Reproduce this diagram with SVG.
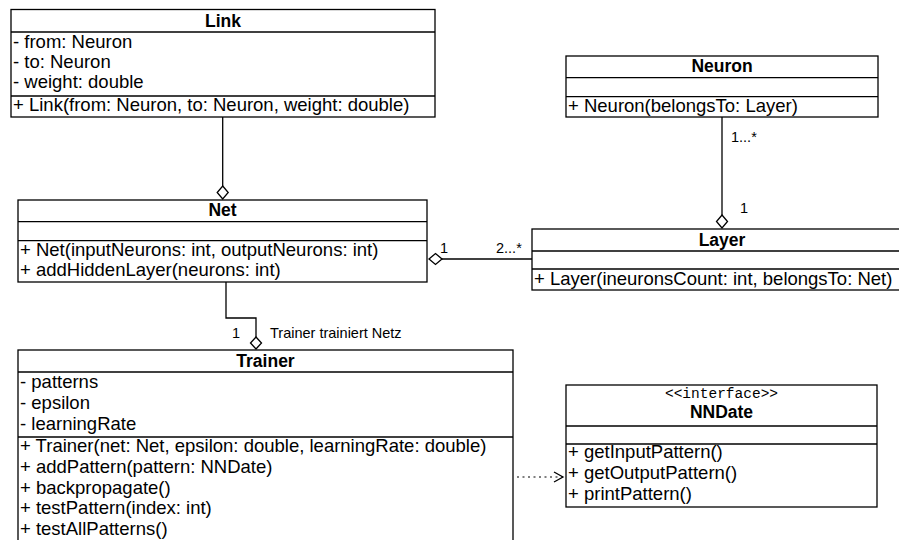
<svg xmlns="http://www.w3.org/2000/svg" width="899" height="540" viewBox="0 0 899 540">
  <style>
    .box { fill: #ffffff; stroke: #000000; stroke-width: 1.3; }
    .div { stroke: #000000; stroke-width: 1.3; }
    .title { font-family: "Liberation Sans", Arial, sans-serif; font-size: 17.5px; font-weight: bold; text-anchor: middle; fill: #000; }
    .member { font-family: "Liberation Sans", Arial, sans-serif; font-size: 18.5px; fill: #000; }
    .stereo { font-family: "Liberation Mono", "Courier New", monospace; font-size: 14.5px; text-anchor: middle; fill: #000; }
    .label { font-family: "Liberation Sans", Arial, sans-serif; font-size: 14.5px; fill: #000; }
    .edge { fill: none; stroke: #000000; stroke-width: 1.3; }
    .diamond { fill: #ffffff; stroke: #000000; stroke-width: 1.3; }
    .dep { fill: none; stroke: #000000; stroke-width: 1.2; stroke-dasharray: 2 3.5; }
  </style>
  <defs>
    <marker id="openArrow" markerWidth="12" markerHeight="12" refX="10" refY="6" orient="auto" markerUnits="userSpaceOnUse">
      <path d="M1,1 L10,6 L1,11" fill="none" stroke="#000" stroke-width="1.3"/>
    </marker>
  </defs>

  <!-- connectors -->
  <g id="connectors">
    <!-- Link – Net aggregation -->
    <line class="edge" x1="222.7" y1="117" x2="222.7" y2="186"/>
    <path class="diamond" d="M222.7,186 L228.2,192.5 L222.7,199 L217.2,192.5 Z"/>
    <!-- Neuron – Layer aggregation -->
    <line class="edge" x1="722" y1="117" x2="722" y2="215"/>
    <path class="diamond" d="M722,215 L727.5,221.5 L722,228 L716.5,221.5 Z"/>
    <text class="label" x="731" y="142">1...*</text>
    <text class="label" x="740" y="213">1</text>
    <!-- Net – Layer aggregation -->
    <line class="edge" x1="442" y1="259" x2="532" y2="259"/>
    <path class="diamond" d="M429,259 L435.5,253.5 L442,259 L435.5,264.5 Z"/>
    <text class="label" x="440" y="253">1</text>
    <text class="label" x="496" y="253">2...*</text>
    <!-- Net – Trainer aggregation -->
    <polyline class="edge" points="226,282 226,318 256,318 256,337"/>
    <path class="diamond" d="M256,337 L261.5,343 L256,349 L250.5,343 Z"/>
    <text class="label" x="232" y="338">1</text>
    <text class="label" x="270" y="338">Trainer trainiert Netz</text>
    <!-- Trainer uses NNDate -->
    <line class="dep" x1="517" y1="477" x2="563" y2="477" marker-end="url(#openArrow)"/>
  </g>

  <!-- Link -->
  <g id="link">
    <rect class="box" x="11" y="9.5" width="424" height="107.5"/>
    <line class="div" x1="11" y1="32" x2="435" y2="32"/>
    <line class="div" x1="11" y1="96" x2="435" y2="96"/>
    <text class="title" x="223" y="27">Link</text>
    <text class="member" x="13" y="48">- from: Neuron</text>
    <text class="member" x="13" y="68">- to: Neuron</text>
    <text class="member" x="13" y="88">- weight: double</text>
    <text class="member" x="13" y="111">+ Link(from: Neuron, to: Neuron, weight: double)</text>
  </g>

  <!-- Neuron -->
  <g id="neuron">
    <rect class="box" x="566" y="56" width="312" height="61"/>
    <line class="div" x1="566" y1="77.7" x2="878" y2="77.7"/>
    <line class="div" x1="566" y1="96.7" x2="878" y2="96.7"/>
    <text class="title" x="722" y="72">Neuron</text>
    <text class="member" x="568" y="112">+ Neuron(belongsTo: Layer)</text>
  </g>

  <!-- Net -->
  <g id="net">
    <rect class="box" x="18" y="200" width="409" height="82"/>
    <line class="div" x1="18" y1="221.7" x2="427" y2="221.7"/>
    <line class="div" x1="18" y1="240.7" x2="427" y2="240.7"/>
    <text class="title" x="222.5" y="216">Net</text>
    <text class="member" x="20" y="256">+ Net(inputNeurons: int, outputNeurons: int)</text>
    <text class="member" x="20" y="276">+ addHiddenLayer(neurons: int)</text>
  </g>

  <!-- Layer -->
  <g id="layer">
    <rect class="box" x="532" y="229" width="380" height="61"/>
    <line class="div" x1="532" y1="251" x2="912" y2="251"/>
    <line class="div" x1="532" y1="269" x2="912" y2="269"/>
    <text class="title" x="722" y="245.5">Layer</text>
    <text class="member" x="534" y="285">+ Layer(ineuronsCount: int, belongsTo: Net)</text>
  </g>

  <!-- Trainer -->
  <g id="trainer">
    <rect class="box" x="18" y="350" width="495" height="200"/>
    <line class="div" x1="18" y1="372" x2="513" y2="372"/>
    <line class="div" x1="18" y1="437" x2="513" y2="437"/>
    <text class="title" x="265.5" y="367">Trainer</text>
    <text class="member" x="20" y="388">- patterns</text>
    <text class="member" x="20" y="409">- epsilon</text>
    <text class="member" x="20" y="430">- learningRate</text>
    <text class="member" x="20" y="452">+ Trainer(net: Net, epsilon: double, learningRate: double)</text>
    <text class="member" x="20" y="473">+ addPattern(pattern: NNDate)</text>
    <text class="member" x="20" y="494">+ backpropagate()</text>
    <text class="member" x="20" y="514">+ testPattern(index: int)</text>
    <text class="member" x="20" y="535">+ testAllPatterns()</text>
  </g>

  <!-- NNDate interface -->
  <g id="nndate">
    <rect class="box" x="566" y="385" width="311" height="122"/>
    <line class="div" x1="566" y1="426" x2="877" y2="426"/>
    <line class="div" x1="566" y1="444" x2="877" y2="444"/>
    <text class="stereo" x="721.5" y="398">&lt;&lt;interface&gt;&gt;</text>
    <text class="title" x="721.5" y="418">NNDate</text>
    <text class="member" x="568" y="458">+ getInputPattern()</text>
    <text class="member" x="568" y="479">+ getOutputPattern()</text>
    <text class="member" x="568" y="500">+ printPattern()</text>
  </g>
</svg>
